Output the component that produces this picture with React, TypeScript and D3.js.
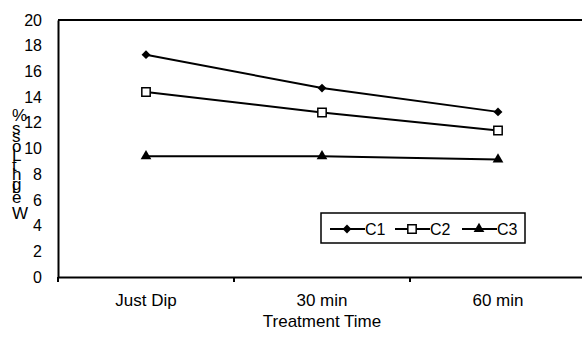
import React, { useEffect, useRef } from 'react';
import * as d3 from 'd3';

const categories = ['Just Dip', '30 min', '60 min'];
const seriesNames = ['C1', 'C2', 'C3'];
const c1 = [17.3, 14.7, 12.85];
const c2 = [14.4, 12.8, 11.4];
const c3 = [9.4, 9.4, 9.15];
const yTicks = [0, 2, 4, 6, 8, 10, 12, 14, 16, 18, 20];

export default function App() {
  const ref = useRef<SVGSVGElement>(null);

  useEffect(() => {
    const W = 582, H = 339;
    const margin = { top: 20, right: -4, bottom: 62, left: 58 };
    const width = W - margin.left - margin.right;
    const height = H - margin.top - margin.bottom;
    const font = 'Arial, "Liberation Sans", sans-serif';

    const svg = d3.select(ref.current);
    svg.selectAll('*').remove();
    const g = svg.append('g').attr('transform', `translate(${margin.left},${margin.top})`);

    const x = d3.scaleBand().domain(categories).range([0, width]);
    const y = d3.scaleLinear().domain([0, 20]).range([height, 0]);

    // plot frame top
    g.append('line').attr('x1', 0).attr('x2', width).attr('y1', 0).attr('y2', 0)
      .attr('stroke', '#000').attr('stroke-width', 2);

    // y axis
    const yAxis = g.append('g').call(d3.axisLeft(y).tickValues(yTicks).tickSize(0).tickPadding(16));
    yAxis.select('.domain').attr('stroke-width', 2);
    yAxis.selectAll('text').attr('font-size', 16).attr('font-family', font).attr('fill', '#000');

    // x axis, ticks between categories
    const xAxis = g.append('g').attr('transform', `translate(0,${height})`)
      .call(d3.axisBottom(x).tickSize(0).tickPadding(17).tickSizeOuter(0));
    xAxis.select('.domain').attr('stroke-width', 2);
    xAxis.selectAll('text').attr('font-size', 17).attr('font-family', font).attr('fill', '#000');
    const bounds = [0, ...categories.map(c => (x(c) as number) + x.bandwidth())];
    g.selectAll('.xtick').data(bounds).enter().append('line')
      .attr('x1', d => d).attr('x2', d => d).attr('y1', height).attr('y2', height + 5)
      .attr('stroke', '#000').attr('stroke-width', 2);

    // axis titles
    g.append('text')
      .attr('x', width / 2).attr('y', height + 50)
      .attr('text-anchor', 'middle').attr('font-size', 17).attr('font-family', font)
      .text('Treatment Time');
    svg.append('text')
      .attr('transform', 'translate(12,162) rotate(-90)')
      .attr('text-anchor', 'middle').attr('font-size', 17).attr('font-family', font)
      .attr('rotate', 90)
      .text('Weight Loss %');

    const cx = (c: string) => (x(c) as number) + x.bandwidth() / 2;
    const line = d3.line<number>().x((d, i) => cx(categories[i])).y(d => y(d));
    const allSeries = [c1, c2, c3];
    const symbols = [d3.symbolDiamond2, d3.symbolSquare, d3.symbolTriangle];
    const sizes = [50, 70, 50];
    const fills = ['#000', '#fff', '#000'];

    allSeries.forEach((s, k) => {
      g.append('path').datum(s).attr('d', line).attr('fill', 'none')
        .attr('stroke', '#000').attr('stroke-width', 2);
      g.selectAll('.m' + k).data(s).enter().append('path')
        .attr('transform', (d, i) => `translate(${cx(categories[i])},${y(d)})`)
        .attr('d', d3.symbol().type(symbols[k]).size(sizes[k]))
        .attr('fill', fills[k]).attr('stroke', '#000').attr('stroke-width', k === 1 ? 1.5 : 0);
    });

    // legend
    const legend = svg.append('g').attr('transform', 'translate(321,213)');
    legend.append('rect').attr('width', 204).attr('height', 30)
      .attr('fill', '#fff').attr('stroke', '#000').attr('stroke-width', 1.5);
    const offs = [9, 74, 141];
    seriesNames.forEach((name, k) => {
      const e = legend.append('g').attr('transform', `translate(${offs[k]},16)`);
      e.append('line').attr('x1', 0).attr('x2', 35).attr('stroke', '#000').attr('stroke-width', 2);
      e.append('path').attr('transform', 'translate(17,0)')
        .attr('d', d3.symbol().type(symbols[k]).size(sizes[k]))
        .attr('fill', fills[k]).attr('stroke', '#000').attr('stroke-width', k === 1 ? 1.5 : 0);
      e.append('text').attr('x', 35).attr('y', 6).attr('font-size', 16).attr('font-family', font)
        .text(name);
    });
  }, []);

  return (
    <svg ref={ref} width={582} height={339}
      style={{ position: 'absolute', left: 0, top: 0, background: '#fff' }} />
  );
}
